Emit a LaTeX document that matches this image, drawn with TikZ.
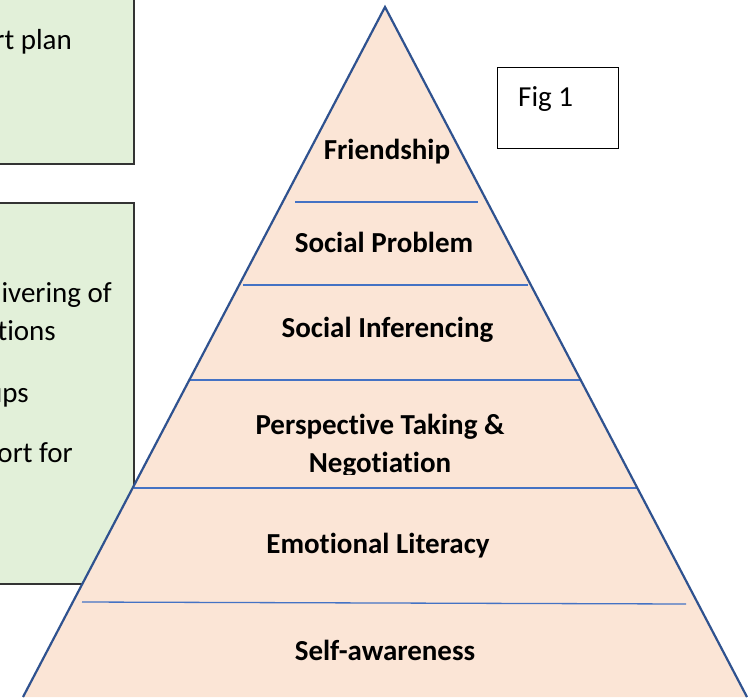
\documentclass[tikz,border=0pt]{standalone}
\usepackage{fontspec}
\setmainfont{Carlito}[Ligatures=NoCommon]
\definecolor{greenfill}{HTML}{E2F0D9}
\definecolor{pyrfill}{HTML}{FBE5D6}
\definecolor{pyredge}{HTML}{2F528F}
\definecolor{pyrline}{HTML}{4472C4}
\tikzset{
  greenbox/.style={draw=black!80, line width=1.2pt, fill=greenfill},
  layerline/.style={draw=pyrline, line width=1.3pt},
  lbl/.style={font=\fontsize{29}{34}\selectfont\bfseries, anchor=base, inner sep=0pt},
  sidetxt/.style={font=\fontsize{29}{34}\selectfont, anchor=base east, inner sep=0pt},
}
\begin{document}
\begin{tikzpicture}[x=1pt,y=-1pt]
\useasboundingbox (0,0) rectangle (755,697);
\clip (0,0) rectangle (755,697);
% green boxes
\path[greenbox] (-10,-10) rectangle (134,164);
\path[greenbox] (-10,203) rectangle (134,584);
\node[sidetxt] (t1) at (72,49) {rt plan};
\node[sidetxt] (t2) at (112,302) {ivering of};
\node[sidetxt] (t3) at (56,340) {tions};
\node[sidetxt] (t4) at (29,402) {ups};
\node[sidetxt] (t5) at (73,462) {ort for};
% pyramid
\coordinate (apex) at (385,7);
\coordinate (bl) at (23,697);
\coordinate (br) at (747,697);
\path[fill=pyrfill] (apex) -- (br) -- (bl) -- cycle;
\draw[layerline] (295,202) -- (478,202);
\draw[layerline] (243,285) -- (528,285);
\draw[layerline] (190,380) -- (580,380);
\draw[layerline] (134,488) -- (637,488);
\draw[layerline] (82,602) -- (686,604);
\draw[draw=pyredge, line width=2.2pt, line join=miter] (bl) -- (apex) -- (br);
% labels
\node[lbl] (l1) at (387,159) {Friendship};
\node[lbl] (l2) at (384,252) {Social Problem};
\node[lbl] (l3) at (387.5,337) {Social Inferencing};
\node[lbl] (l4) at (380,434) {Perspective Taking \&};
\begin{scope}
\clip (200,440) rectangle (560,474);
\node[lbl] (l5) at (380,472) {Negotiation};
\end{scope}
\node[lbl] (l6) at (378,553) {Emotional Literacy};
\node[lbl] (l7) at (385,660) {Self-awareness};
% fig box
\node[draw=black, line width=1.2pt, minimum width=121pt, minimum height=81pt, anchor=north west] (fig) at (497,67) {};
\node[font=\fontsize{29}{34}\selectfont, anchor=base west, inner sep=0pt] (figt) at (518,106) {Fig 1};
\end{tikzpicture}
\end{document}
